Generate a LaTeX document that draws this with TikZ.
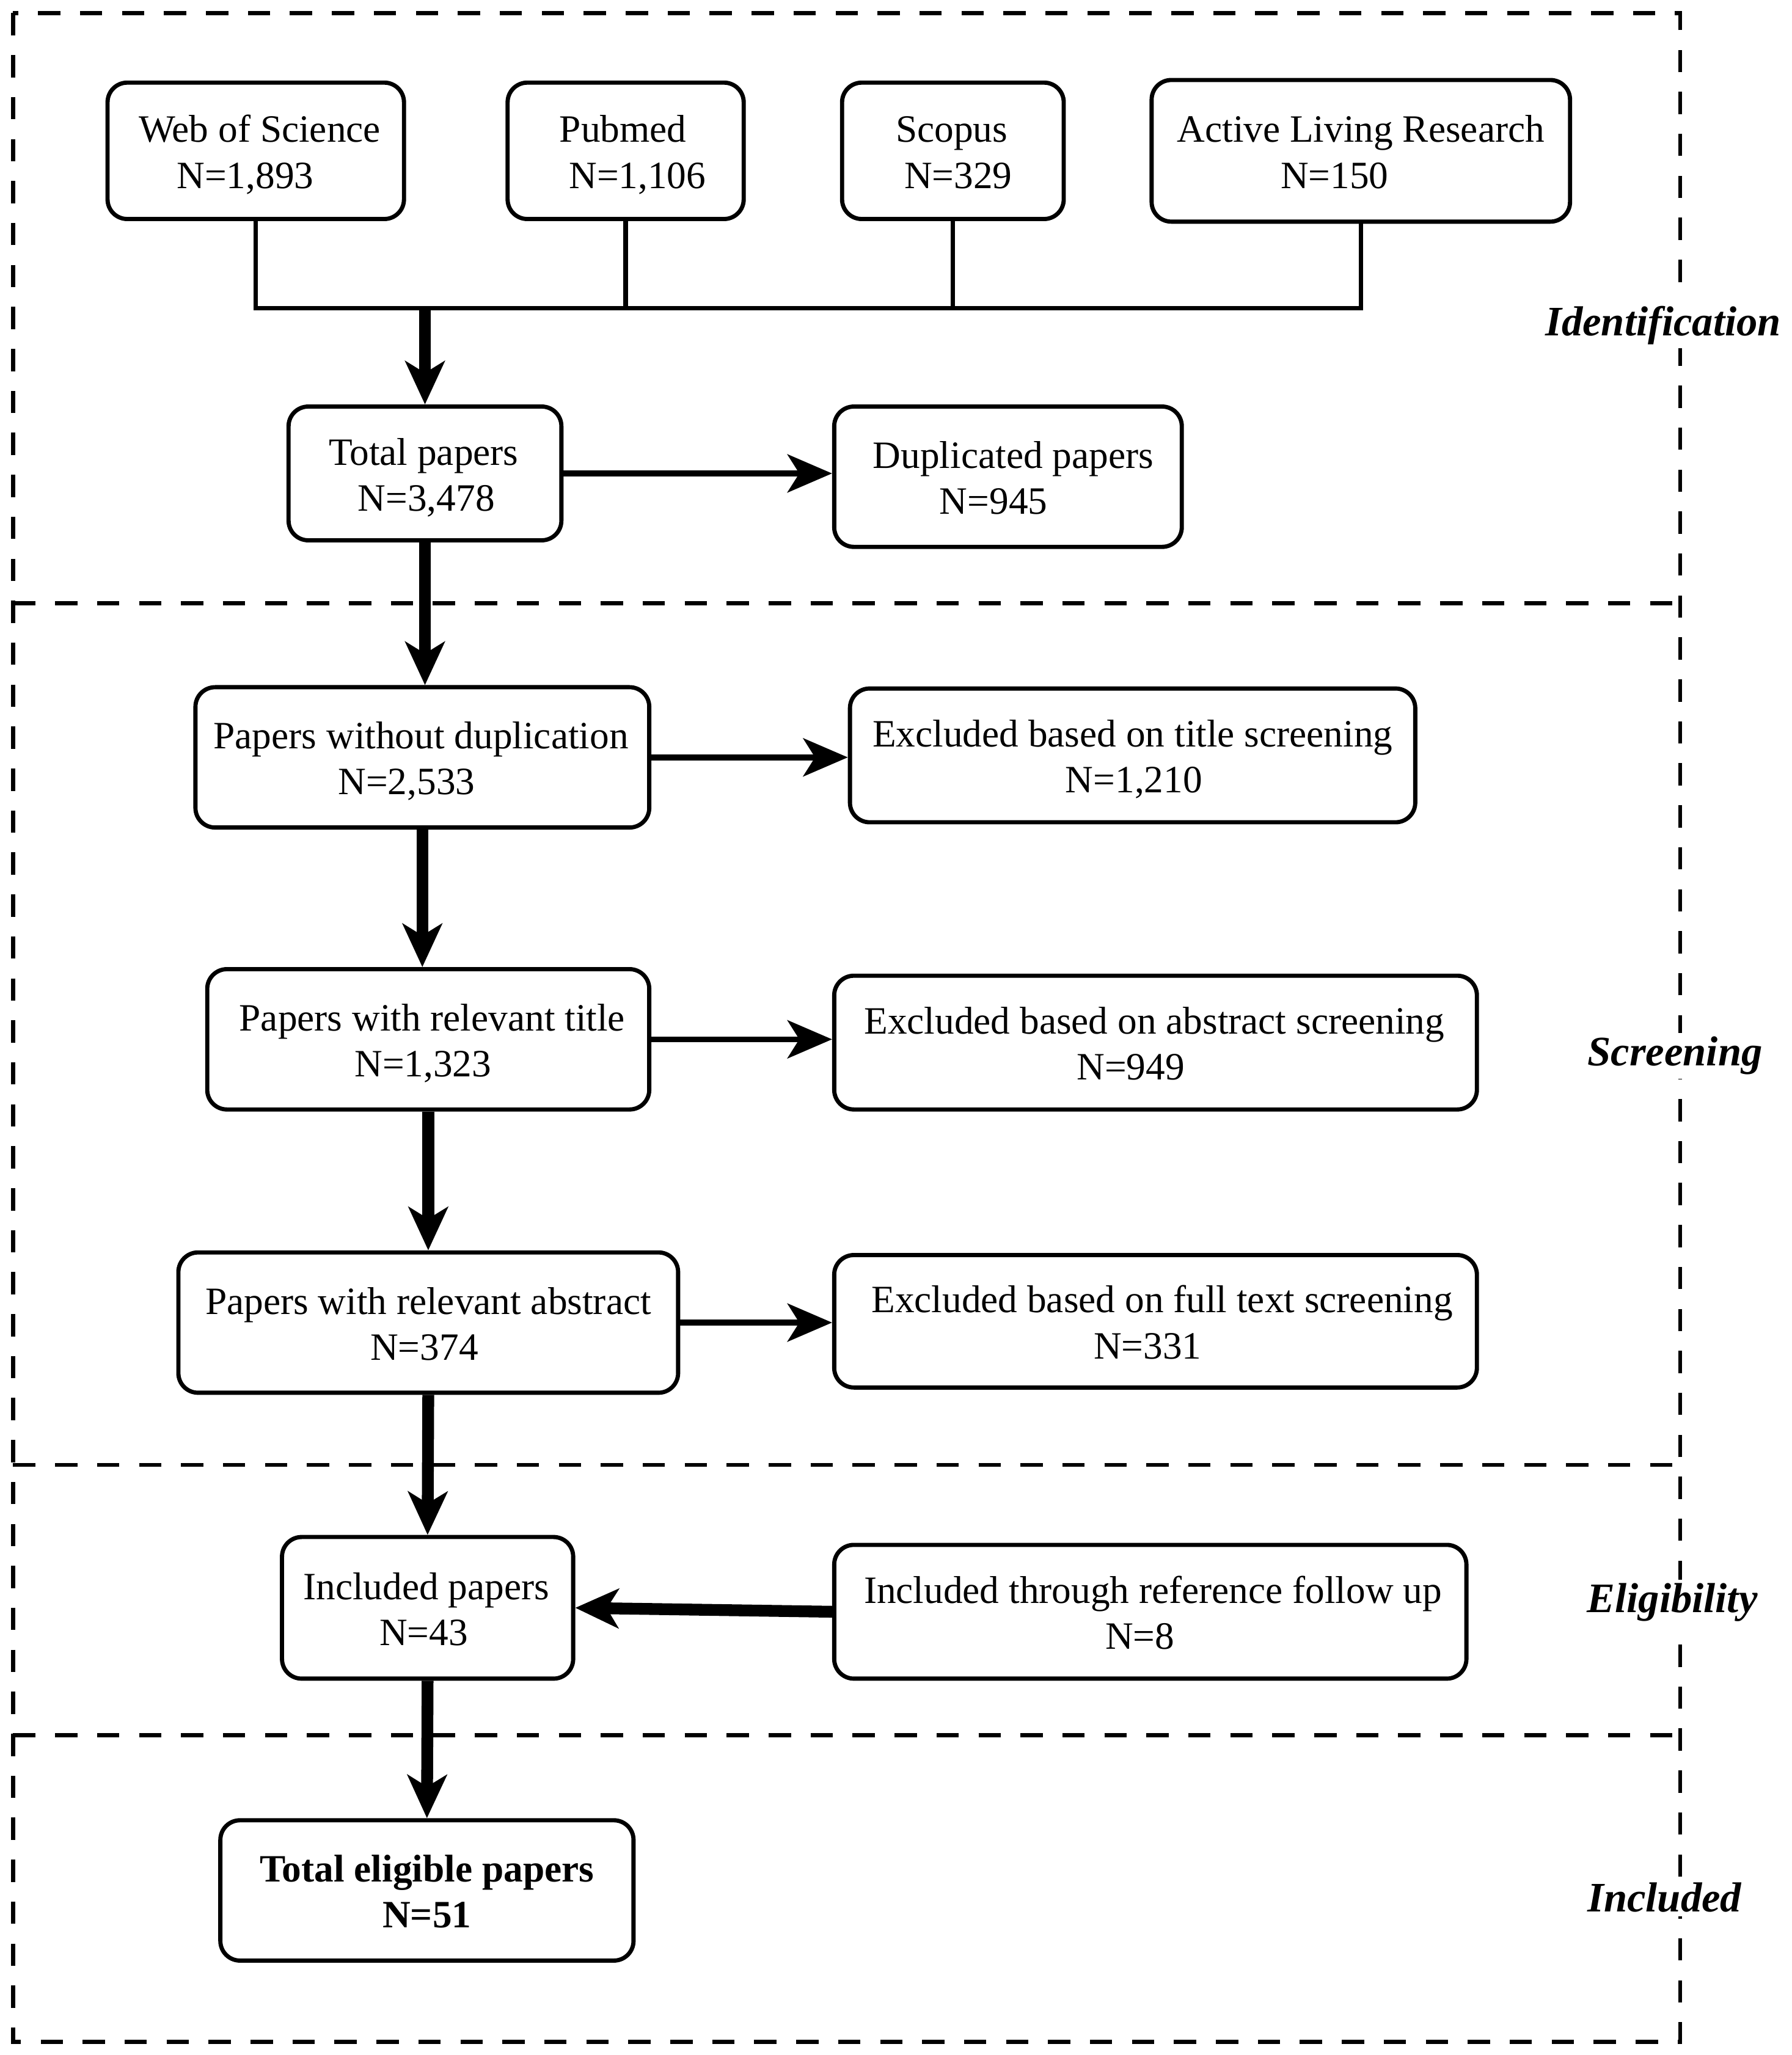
\documentclass[tikz,border=0pt]{standalone}
\usepackage{fontspec}
\setmainfont{Liberation Serif}
\usetikzlibrary{arrows.meta}
\newcommand{\shl}[2]{\hspace*{#1pt}#2}
\begin{document}
\begin{tikzpicture}[x=1pt,y=-1pt,
  box/.style={draw, line width=3.2pt, rounded corners=15pt, align=center, inner sep=0pt,
    font=\fontsize{29.5pt}{35pt}\selectfont,
    execute at begin node={\rule{0pt}{63pt}},
    execute at end node={\rule[-6pt]{0pt}{6pt}}},
  bus/.style={line width=3.5pt, line join=miter},
  bigarrow/.style={line width=9pt, -{Stealth[length=33pt,width=30pt,inset=9pt]}},
  sidearrow/.style={line width=4.5pt, -{Stealth[length=34pt,width=29pt,inset=9pt]}},
  frame/.style={line width=3.2pt, dash pattern=on 17pt off 15pt},
  phase/.style={fill=white, inner sep=3pt, font=\fontsize{32pt}{38pt}\selectfont\bfseries\itshape}
]
\useasboundingbox (0,0) rectangle (1366,1567);
% frame
\draw[frame] (10,10) rectangle (1281,1557);
\draw[frame] (10,460) -- (1281,460);
\draw[frame] (10,1117) -- (1281,1117);
\draw[frame] (10,1323) -- (1281,1323);
\node[phase] (lid) at (1268,248) {Identification};
\node[phase] (lsc) at (1277,805) {Screening};
\node[phase] (lel) at (1275,1222) {Eligibility};
\node[phase] (lin) at (1269,1447) {Included};
% boxes
\node[box, minimum width=226pt, minimum height=104pt] (wos) at (195,115) {\shl{6}{Web of Science}\\\shl{-16}{N=1,893}};
\node[box, minimum width=180pt, minimum height=104pt] (pub) at (477,115) {\shl{-4}{Pubmed}\\\shl{18}{N=1,106}};
\node[box, minimum width=169pt, minimum height=104pt] (sco) at (726.5,115) {\shl{-2}{Scopus}\\\shl{8}{N=329}};
\node[box, minimum width=319pt, minimum height=108pt] (alr) at (1037.5,115) {Active Living Research\\\shl{-40}{N=150}};
\node[box, minimum width=208pt, minimum height=102pt] (total) at (324,361) {\shl{-2}{Total papers}\\\shl{2}{N=3,478}};
\node[box, minimum width=265pt, minimum height=107pt] (dup) at (768.5,363.5) {\shl{8}{Duplicated papers}\\\shl{-22}{N=945}};
\node[box, minimum width=346pt, minimum height=107pt] (nodup) at (322,577.5) {\shl{-2}{Papers without duplication}\\\shl{-24}{N=2,533}};
\node[box, minimum width=431pt, minimum height=102pt] (extitle) at (863.5,576) {Excluded based on title screening\\\shl{2}{N=1,210}};
\node[box, minimum width=337pt, minimum height=107pt] (reltitle) at (326.5,792.5) {\shl{6}{Papers with relevant title}\\\shl{-8}{N=1,323}};
\node[box, minimum width=490pt, minimum height=102pt] (exabs) at (881,795) {\shl{-2}{Excluded based on abstract screening}\\\shl{-38}{N=949}};
\node[box, minimum width=381pt, minimum height=107pt] (relabs) at (326.5,1008.5) {Papers with relevant abstract\\\shl{-6}{N=374}};
\node[box, minimum width=490pt, minimum height=101pt] (exfull) at (881,1007.5) {\shl{10}{Excluded based on full text screening}\\\shl{-12}{N=331}};
\node[box, minimum width=222pt, minimum height=108pt] (incl) at (326,1226) {\shl{-2}{Included papers}\\\shl{-6}{N=43}};
\node[box, minimum width=482pt, minimum height=102pt] (inclref) at (877,1229) {\shl{4}{Included through reference follow up}\\\shl{-16}{N=8}};
\node[box, minimum width=315pt, minimum height=107pt, font=\fontsize{29.5pt}{35pt}\selectfont\bfseries] (elig) at (325.5,1441.5) {Total eligible papers\\N=51};
% connectors
\coordinate (busL) at (195,235);
\draw[bus] (wos.south) |- (alr.south |- busL) -- (alr.south);
\draw[bus] (pub.south) -- (pub.south |- busL);
\draw[bus] (sco.south) -- (sco.south |- busL);
\draw[bigarrow] (total.north |- busL) -- (total.north);
\draw[sidearrow] (total.east) -- (total.east -| dup.west);
\draw[bigarrow] (total.south) -- (total.south |- nodup.north);
\draw[sidearrow] (nodup.east) -- (nodup.east -| extitle.west);
\draw[bigarrow] (nodup.south) -- (nodup.south |- reltitle.north);
\draw[sidearrow] (reltitle.east) -- (reltitle.east -| exabs.west);
\draw[bigarrow] (reltitle.south) -- (reltitle.south |- relabs.north);
\draw[sidearrow] (relabs.east) -- (relabs.east -| exfull.west);
\draw[bigarrow] (relabs.south) -- (incl.north);
\draw[bigarrow] (inclref.west) -- (incl.east);
\draw[bigarrow] (incl.south) -- (elig.north);
\end{tikzpicture}
\end{document}
